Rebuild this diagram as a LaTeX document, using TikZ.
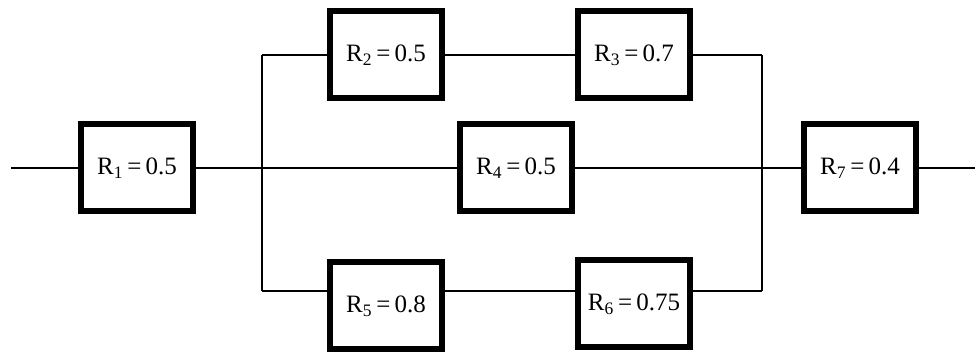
\documentclass[tikz,border=0pt]{standalone}
\usepackage{fontspec}
\setmainfont{Liberation Serif}
\usetikzlibrary{positioning}

\begin{document}
\begin{tikzpicture}[x=1pt, y=-1pt, block/.style = {draw, line width=6pt, minimum width=112pt, minimum height=87pt, inner sep=0pt, font=\fontsize{25}{29}\selectfont}, wire/.style = {line width=1.1pt}]
            \useasboundingbox (0,0) rectangle (975,352);
            \node[block] (R1) at (137,168) {R\textsubscript{1}\,=\,0.5};
            \node[block] (R2) at (386,55) {R\textsubscript{2}\,=\,0.5};
            \node[block] (R3) at (634,55) {R\textsubscript{3}\,=\,0.7};
            \node[block] (R4) at (516,168) {R\textsubscript{4}\,=\,0.5};
            \node[block] (R5) at (386,306) {R\textsubscript{5}\,=\,0.8};
            \node[block] (R6) at (634,304) {R\textsubscript{6}\,=\,0.75};
            \node[block] (R7) at (860,168) {R\textsubscript{7}\,=\,0.4};

            \coordinate (in) at (11,168);
            \coordinate (out) at (975,168);
            \coordinate (LT) at (262,55);
            \coordinate (LB) at (262,291);
            \coordinate (RT) at (762,55);
            \coordinate (RB) at (762,291);

            \draw[wire] (in) -- (R1);
            \draw[wire] (R1) -- (R4);
            \draw[wire] (R4) -- (R7);
            \draw[wire] (R7) -- (out);

            \draw[wire] (LT) -- (LB);
            \draw[wire] (RT) -- (RB);
            \draw[wire] (LT) -- (R2);
            \draw[wire] (R2) -- (R3);
            \draw[wire] (R3) -- (RT);
            \draw[wire] (LB) -- (LB -| R5.west);
            \draw[wire] (R5.east |- LB) -- (R6.west |- LB);
            \draw[wire] (R6.east |- LB) -- (RB);
        \end{tikzpicture}
\end{document}
